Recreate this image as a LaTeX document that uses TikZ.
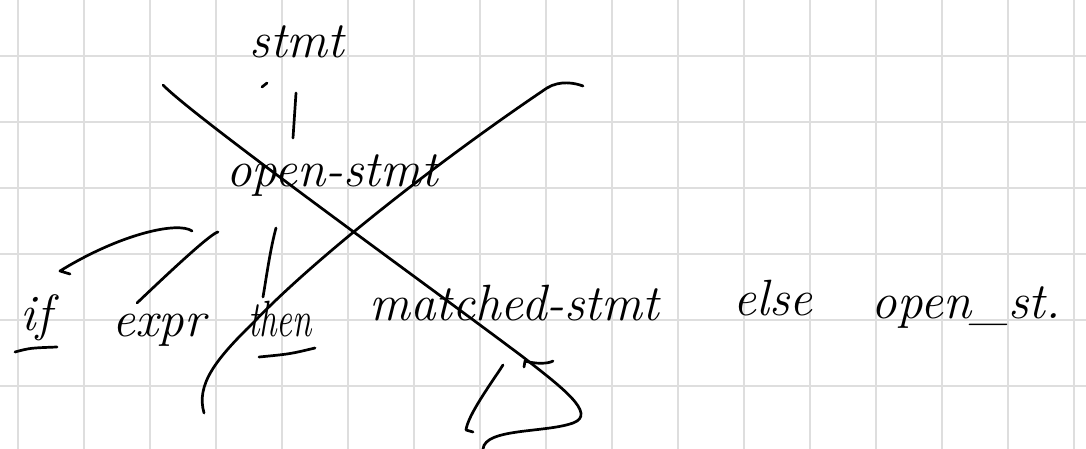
\documentclass[tikz,border=0pt]{standalone}
\usepackage{graphicx}
\begin{document}
\begin{tikzpicture}[x=1pt,y=-1pt,
  ink/.style={draw=black,line width=2.7pt,line cap=round,line join=round},
  gridline/.style={draw=black!13,line width=1.4pt},
  hand/.style={inner sep=0pt,anchor=base,font=\fontsize{51}{55}\selectfont\itshape}]
\useasboundingbox (0,0) rectangle (1086,449);
\fill[white] (0,0) rectangle (1086,449);
% grid paper
\foreach \gx in {0,...,16} \draw[gridline] (18+66*\gx,0) -- (18+66*\gx,449);
\foreach \gy in {0,...,5} \draw[gridline] (0,56+66*\gy) -- (1086,56+66*\gy);

% words
\node[hand] (stmt) at (297,58) {stmt};
\node[hand] (open) at (332,186) {open-stmt};
\node[hand] (if) at (36,330) {if};
\node[hand] (expr) at (159,336) {expr};
\node[hand] (then) at (280,336) {\resizebox{64pt}{\height}{then}};
\node[hand] (matched) at (514,320) {matched-stmt};
\node[hand] (else) at (773,315) {else};
\node[hand] (open2) at (966,318) {open\_st.};

% stroke ends
\coordinate (s1) at (296,93);
\coordinate (s2) at (293,138);
\coordinate (i1) at (192,231);
\coordinate (i2) at (70,274);
\coordinate (e1) at (218,232);
\coordinate (e2) at (137,303);
\coordinate (t1) at (276,228);
\coordinate (t2) at (263,297);

% tree edges
\draw[ink] (262,87) -- (267,83);
\draw[ink] (s1) -- (s2);
\draw[ink] (i1) .. controls (178,221) and (120,234) .. (60,271) -- (i2);
\draw[ink] (e1) .. controls (212,233) and (180,262) .. (e2);
\draw[ink] (t1) .. controls (270,250) and (266,280) .. (t2);

% underlines
\draw[ink] (15,352) .. controls (30,348) .. (57,347);
\draw[ink] (259,357) .. controls (290,354) .. (315,348);

% crossing-out strokes
\draw[ink] (163,85) .. controls (195,118) and (430,287) .. (523,357)
  .. controls (560,386) and (598,414) .. (573,423)
  .. controls (545,433) and (485,428) .. (483,449);
\draw[ink] (204,413) .. controls (196,385) and (215,360) .. (253,323)
  .. controls (315,258) and (440,160) .. (547,88)
  .. controls (560,80) and (575,83) .. (583,86);

% small marks near the bottom
\draw[ink] (524,367) -- (525,361) .. controls (535,364) and (548,364) .. (553,361);
\draw[ink] (503,365) .. controls (490,385) and (468,415) .. (466,430) -- (473,432);
\end{tikzpicture}
\end{document}
